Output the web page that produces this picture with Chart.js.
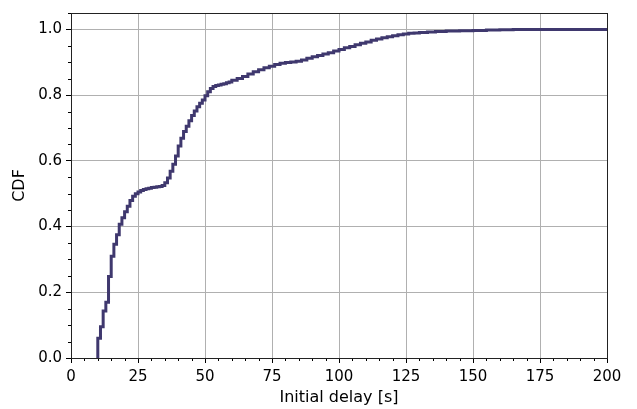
<!DOCTYPE html>
<html>
<head>
<meta charset="utf-8">
<script src="https://cdn.jsdelivr.net/npm/chart.js@4/dist/chart.umd.min.js"></script>
<style>
  html, body { margin: 0; padding: 0; background: #ffffff; }
  #wrap { width: 637px; height: 409px; position: relative; }
</style>
</head>
<body>
<div id="wrap"><canvas id="c" width="637" height="409"></canvas></div>
<script>
const delaySeconds = [10, 10, 11, 12, 13, 14, 15, 16, 17, 18, 19, 20, 21, 22, 23, 24, 25, 26, 27, 28, 29, 30,
  31, 32, 33, 34, 35, 36, 37, 38, 39, 40, 41, 42, 43, 44, 45, 46, 47, 48, 49, 50, 51, 52, 53, 54, 55, 56, 57, 58, 59, 60,
  62, 64, 66, 68, 70, 72, 74, 76, 78, 80, 82, 84, 86, 88, 90, 92, 94, 96, 98, 100, 102, 104, 106, 108, 110,
  112, 114, 116, 118, 120, 122, 124, 126, 128, 130, 133, 136, 140, 145, 150, 155, 160, 165, 175, 200];
const cdfValues = [0, 0.024, 0.06, 0.095, 0.143, 0.17, 0.248, 0.31, 0.346, 0.375, 0.407, 0.427, 0.445, 0.462, 0.479, 0.492, 0.5, 0.505, 0.51, 0.513, 0.515, 0.517,
  0.519, 0.52, 0.521, 0.522, 0.525, 0.533, 0.548, 0.568, 0.59, 0.615, 0.645, 0.669, 0.689, 0.705, 0.722, 0.738, 0.752, 0.765, 0.775, 0.785, 0.798, 0.81, 0.82, 0.826, 0.829, 0.831, 0.833, 0.835, 0.838, 0.84,
  0.845, 0.851, 0.857, 0.864, 0.871, 0.877, 0.883, 0.888, 0.893, 0.897, 0.899, 0.901, 0.903, 0.907, 0.912, 0.917, 0.921, 0.925, 0.929, 0.934, 0.939, 0.944, 0.948, 0.953, 0.958,
  0.962, 0.967, 0.971, 0.975, 0.978, 0.981, 0.984, 0.986, 0.988, 0.989, 0.991, 0.992, 0.994, 0.995, 0.996, 0.997, 0.998, 0.999, 1.0, 1.0];
const xTickValues = [0, 25, 50, 75, 100, 125, 150, 175, 200];
const yTickValues = [0.0, 0.2, 0.4, 0.6, 0.8, 1.0];

const points = delaySeconds.map((x, i) => ({ x: x, y: cdfValues[i] }));
const FONT = "'DejaVu Sans', sans-serif";

const framePlugin = {
  id: 'frame',
  afterDraw(chart) {
    const ctx = chart.ctx;
    const a = chart.chartArea;
    const xs = chart.scales.x, ys = chart.scales.y;
    ctx.save();
    ctx.strokeStyle = '#000';
    ctx.lineWidth = 1;
    for (let v = 0; v <= 200; v += 5) {
      if (v % 25 === 0) continue;
      const px = Math.round(xs.getPixelForValue(v)) + 0.5;
      ctx.beginPath(); ctx.moveTo(px, a.bottom); ctx.lineTo(px, a.bottom + 3); ctx.stroke();
    }
    for (let k = 0; k <= 21; k++) {
      if (k % 4 === 0) continue;
      const py = Math.round(ys.getPixelForValue(k * 0.05)) + 0.5;
      ctx.beginPath(); ctx.moveTo(a.left, py); ctx.lineTo(a.left - 3, py); ctx.stroke();
    }
    ctx.strokeStyle = '#222';
    ctx.strokeRect(Math.round(a.left) + 0.5, Math.round(a.top) + 0.5, Math.round(a.right - a.left), Math.round(a.bottom - a.top));
    ctx.restore();
  }
};

new Chart(document.getElementById('c'), {
  type: 'line',
  data: {
    datasets: [{
      data: points,
      stepped: 'after',
      borderColor: '#3f386e',
      backgroundColor: '#3f386e',
      borderWidth: 3,
      pointRadius: 0,
      fill: false
    }]
  },
  options: {
    responsive: false,
    animation: false,
    layout: { padding: { left: 0, right: 30, top: 10, bottom: 0 } },
    plugins: { legend: { display: false }, tooltip: { enabled: false } },
    scales: {
      x: {
        type: 'linear',
        min: 0, max: 200,
        afterFit(s) { s.height = 51; },
        afterBuildTicks(s) { s.ticks = xTickValues.map(v => ({ value: v })); },
        ticks: { color: '#000', font: { family: FONT, size: 15 }, padding: 5, maxRotation: 0,
                 callback: v => String(v) },
        grid: { color: '#b0b0b0', lineWidth: 1, drawTicks: true, tickLength: 5, tickColor: '#000' },
        border: { display: true, color: '#222', width: 1 },
        title: { display: true, text: 'Initial delay [s]', color: '#000', font: { family: FONT, size: 16 }, padding: { top: 0, bottom: 2 } }
      },
      y: {
        type: 'linear',
        min: 0, max: 1.05,
        afterFit(s) { s.width = 71; },
        afterBuildTicks(s) { s.ticks = yTickValues.map(v => ({ value: v })); },
        ticks: { color: '#000', font: { family: FONT, size: 15 }, padding: 4,
                 callback: v => Number(v).toFixed(1) },
        grid: { color: '#b0b0b0', lineWidth: 1, drawTicks: true, tickLength: 5, tickColor: '#000' },
        border: { display: true, color: '#222', width: 1 },
        title: { display: true, text: 'CDF', color: '#000', font: { family: FONT, size: 16 }, padding: { top: 10, bottom: 0 } }
      }
    }
  },
  plugins: [framePlugin]
});
</script>
</body>
</html>
